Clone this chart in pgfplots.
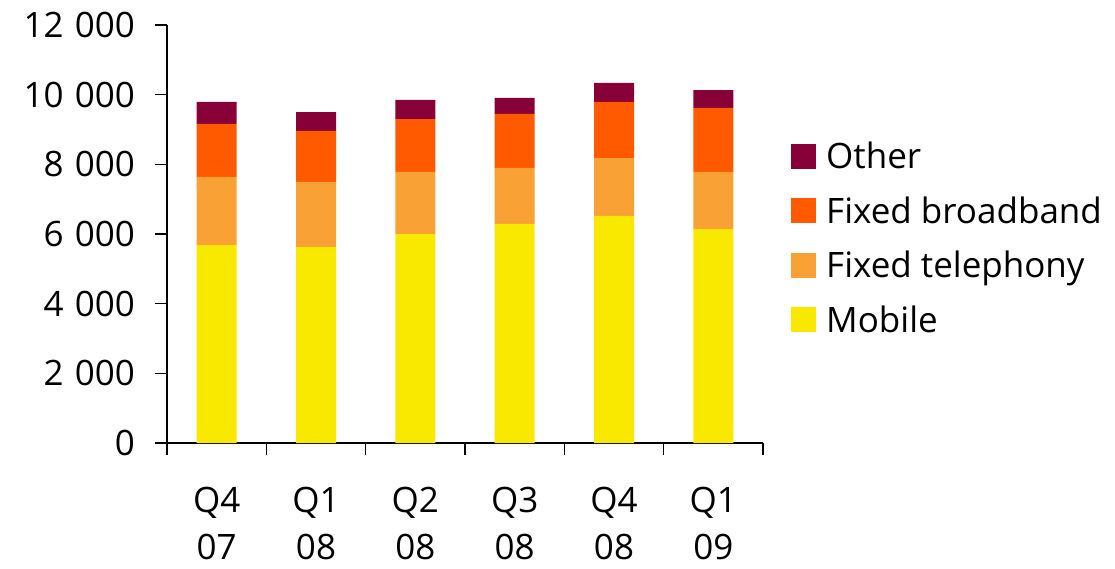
\documentclass[border=0pt]{standalone}
\usepackage{fontspec}
\setmainfont{Open Sans}
\usepackage{pgfplots}
\pgfplotsset{compat=1.18}

\definecolor{cOther}{HTML}{880038}
\definecolor{cBroad}{HTML}{FF5A00}
\definecolor{cTel}{HTML}{F9A135}
\definecolor{cMob}{HTML}{F9E900}

\newcommand{\chartfont}{\fontsize{35}{47}\selectfont}
% thousands separator used in the value axis labels
\newcommand{\ts}{\hspace{0.32em}}

\begin{document}
\chartfont
\begin{tikzpicture}
\begin{axis}[
  name=ax,
  scale only axis,
  width=596pt, height=418pt,
  ybar stacked, bar width=40pt, bar shift=0pt,
  xmin=-0.5, xmax=5.5, ymin=0, ymax=12000,
  axis x line=bottom, axis y line=left,
  axis line style={line width=1.4pt, -},
  every tick/.style={line width=1.4pt, black},
  tick align=outside, major tick length=12pt,
  scaled y ticks=false,
  xtick={-0.5,0.5,...,5.5}, xticklabels={},
  extra x ticks={0,1,2,3,4,5},
  extra x tick labels={Q4\\07,Q1\\08,Q2\\08,Q3\\08,Q4\\08,Q1\\09},
  extra x tick style={major tick length=0pt},
  xticklabel style={align=center, inner sep=0pt, anchor=north, yshift=-44pt,
    font=\chartfont},
  ytick={0,2000,...,12000},
  yticklabels={0,2\ts000,4\ts000,6\ts000,8\ts000,10\ts000,12\ts000},
  yticklabel style={inner sep=0pt, anchor=east, xshift=-20pt,
    font=\chartfont},
  /pgf/number format/assume math mode=true,
  reverse legend,
  legend style={at={(1.047,0.49)}, anchor=west, draw=none, fill=none,
    inner sep=0pt, row sep=19.5pt, column sep=10pt,
    font=\chartfont,
    nodes={inner sep=0pt, text height=30pt, text depth=5pt}},
  legend cell align=left,
  legend image code/.code={\fill[#1] (0pt,-12.5pt) rectangle (25pt,12.5pt);},
]
\addplot[fill=cMob, draw=none] coordinates {(0,5690) (1,5630) (2,6000) (3,6290) (4,6520) (5,6150)};
\addplot[fill=cTel, draw=none] coordinates {(0,1950) (1,1870) (2,1780) (3,1610) (4,1660) (5,1630)};
\addplot[fill=cBroad, draw=none] coordinates {(0,1520) (1,1460) (2,1520) (3,1550) (4,1610) (5,1840)};
\addplot[fill=cOther, draw=none] coordinates {(0,630) (1,540) (2,550) (3,460) (4,550) (5,510)};
\legend{Mobile, Fixed telephony, Fixed broadband, Other}
\end{axis}
\path (ax.south west) ++(-167pt,-125pt) rectangle ++(1115pt,568pt);
\end{tikzpicture}
\end{document}
